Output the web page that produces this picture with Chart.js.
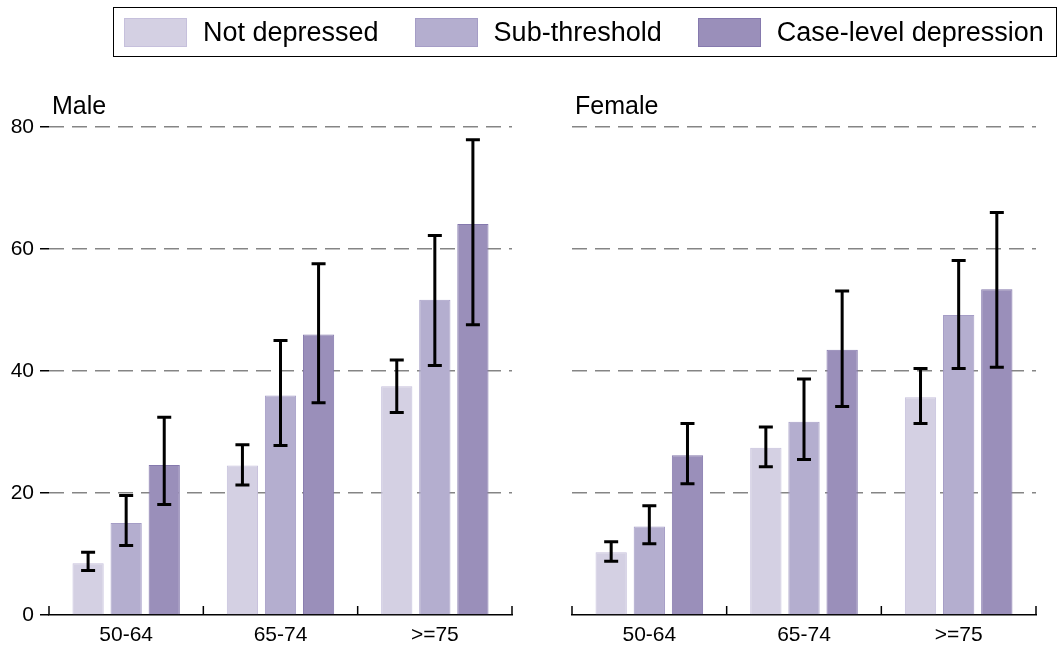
<!DOCTYPE html>
<html>
<head>
<meta charset="utf-8">
<script src="https://cdn.jsdelivr.net/npm/chart.js@4/dist/chart.umd.min.js"></script>
<style>
    html, body { margin: 0; padding: 0; background: #fff; width: 1061px; height: 648px; overflow: hidden; font-family: "Liberation Sans", Arial, sans-serif; }
    #wrap { position: relative; width: 1061px; height: 648px; }
    #chartMale { position: absolute; left: 0; top: 0; }
    #chartFemale { position: absolute; left: 530px; top: 0; }
    #legend { position: absolute; left: 113px; top: 7px; width: 944px; height: 50px; border: 1px solid #000; display: flex; align-items: center; font-size: 27px; padding-left: 10px; box-sizing: border-box; white-space: nowrap; overflow: hidden; }
    .item { display: flex; align-items: center; margin-right: 36px; flex-shrink: 0; }
    .item span { flex-shrink: 0; }
    .swatch { width: 61px; height: 27px; margin-right: 16px; border: 1px solid; flex-shrink: 0; }
</style>
</head>
<body>
<div id="wrap">
    <canvas id="chartMale" width="530" height="648"></canvas>
    <canvas id="chartFemale" width="531" height="648"></canvas>
    <div id="legend"></div>
</div>
<script>
// categories & series
const ageGroups = ['50-64', '65-74', '>=75'];
const seriesNames = ['Not depressed', 'Sub-threshold', 'Case-level depression'];
const fillColors = ['#d4d0e3', '#b4aecf', '#9a8fba'];
const edgeColors = ['#c6c0dc', '#a59dc6', '#8579ad'];
const yTicks = [0, 20, 40, 60, 80];

// Male
const maleNotDep = [8.5, 24.5, 37.5];
const maleNotDepLo = [7.3, 21.3, 33.2];
const maleNotDepHi = [10.3, 27.9, 41.8];
const maleSub = [15.1, 36.0, 51.7];
const maleSubLo = [11.4, 27.8, 40.9];
const maleSubHi = [19.6, 45.0, 62.2];
const maleCase = [24.6, 46.0, 64.1];
const maleCaseLo = [18.1, 34.8, 47.6];
const maleCaseHi = [32.4, 57.6, 77.9];

// Female
const femaleNotDep = [10.3, 27.4, 35.7];
const femaleNotDepLo = [8.8, 24.3, 31.4];
const femaleNotDepHi = [12.0, 30.8, 40.4];
const femaleSub = [14.5, 31.7, 49.2];
const femaleSubLo = [11.7, 25.5, 40.4];
const femaleSubHi = [17.9, 38.7, 58.1];
const femaleCase = [26.2, 43.5, 53.4];
const femaleCaseLo = [21.5, 34.2, 40.6];
const femaleCaseHi = [31.4, 53.1, 66.0];

Chart.defaults.font.family = '"Liberation Sans", Arial, sans-serif';
Chart.defaults.font.size = 21;
Chart.defaults.color = '#000';

// legend (html)
const legendEl = document.getElementById('legend');
seriesNames.forEach((name, i) => {
    const it = document.createElement('div');
    it.className = 'item';
    const sw = document.createElement('div');
    sw.className = 'swatch';
    sw.style.background = fillColors[i];
    sw.style.borderColor = edgeColors[i];
    const tx = document.createElement('span');
    tx.textContent = name;
    it.appendChild(sw);
    it.appendChild(tx);
    legendEl.appendChild(it);
});

// error bars, drawn through the y scale
const errorBars = {
    id: 'errorBars',
    afterDatasetsDraw(chart) {
        const ctx = chart.ctx;
        const ys = chart.scales.y;
        ctx.save();
        ctx.strokeStyle = '#000';
        ctx.lineWidth = 3;
        chart.data.datasets.forEach((ds, i) => {
            const meta = chart.getDatasetMeta(i);
            meta.data.forEach((bar, j) => {
                const top = ys.getPixelForValue(ds.errHi[j]);
                const bot = ys.getPixelForValue(ds.errLo[j]);
                ctx.beginPath();
                ctx.moveTo(bar.x, top);
                ctx.lineTo(bar.x, bot);
                ctx.moveTo(bar.x - 7, top);
                ctx.lineTo(bar.x + 7, top);
                ctx.moveTo(bar.x - 7, bot);
                ctx.lineTo(bar.x + 7, bot);
                ctx.stroke();
            });
        });
        ctx.restore();
    }
};

// category boundary ticks (pointing up) + panel label
const panelDecor = {
    id: 'panelDecor',
    afterDraw(chart, args, opts) {
        const ctx = chart.ctx;
        const xs = chart.scales.x;
        const area = chart.chartArea;
        ctx.save();
        ctx.strokeStyle = '#000';
        ctx.lineWidth = 1.5;
        for (let k = 0; k <= ageGroups.length; k++) {
            const px = xs.getPixelForValue(k - 0.5);
            ctx.beginPath();
            ctx.moveTo(px, area.bottom);
            ctx.lineTo(px, area.bottom - 9);
            ctx.stroke();
        }
        ctx.fillStyle = '#000';
        ctx.font = '25px "Liberation Sans", Arial, sans-serif';
        ctx.textBaseline = 'middle';
        ctx.fillText(opts.text, area.left + 3, area.top - 20);
        ctx.restore();
    }
};

function makePanel(id, label, values, showY, padRight, leftW) {
    const data = {
        labels: ageGroups,
        datasets: values.map((v, i) => ({
            label: seriesNames[i],
            data: v[0],
            errLo: v[1],
            errHi: v[2],
            backgroundColor: fillColors[i],
            borderColor: edgeColors[i],
            borderWidth: 1,
            categoryPercentage: 0.74,
            barPercentage: 0.82
        }))
    };
    new Chart(document.getElementById(id), {
        type: 'bar',
        data,
        plugins: [errorBars, panelDecor],
        options: {
            responsive: false,
            animation: false,
            layout: { padding: { top: 127, right: padRight, bottom: 0, left: 0 } },
            plugins: {
                legend: { display: false },
                tooltip: { enabled: false },
                panelDecor: { text: label }
            },
            scales: {
                x: {
                    grid: { display: false, drawTicks: false },
                    border: { display: true, color: '#000', width: 1.5 },
                    ticks: { padding: 8, font: { size: 21 } },
                    afterFit: s => { s.height = 33; }
                },
                y: {
                    min: 0,
                    max: 80,
                    afterBuildTicks: s => { s.ticks = yTicks.map(v => ({ value: v })); },
                    grid: {
                        color: c => (c.tick && c.tick.value === 0) ? 'rgba(0,0,0,0)' : '#858585',
                        lineWidth: 1.5,
                        drawTicks: showY,
                        tickLength: 9,
                        tickColor: '#000',
                        tickWidth: 1.5,
                        tickBorderDash: []
                    },
                    border: { display: false, dash: [15, 8] },
                    ticks: { display: showY, padding: 6, font: { size: 21 } },
                    afterFit: s => { s.width = leftW; }
                }
            }
        }
    });
}

makePanel('chartMale', 'Male', [
    [maleNotDep, maleNotDepLo, maleNotDepHi],
    [maleSub, maleSubLo, maleSubHi],
    [maleCase, maleCaseLo, maleCaseHi]
], true, 18, 49);

makePanel('chartFemale', 'Female', [
    [femaleNotDep, femaleNotDepLo, femaleNotDepHi],
    [femaleSub, femaleSubLo, femaleSubHi],
    [femaleCase, femaleCaseLo, femaleCaseHi]
], false, 25, 42);
</script>
</body>
</html>
